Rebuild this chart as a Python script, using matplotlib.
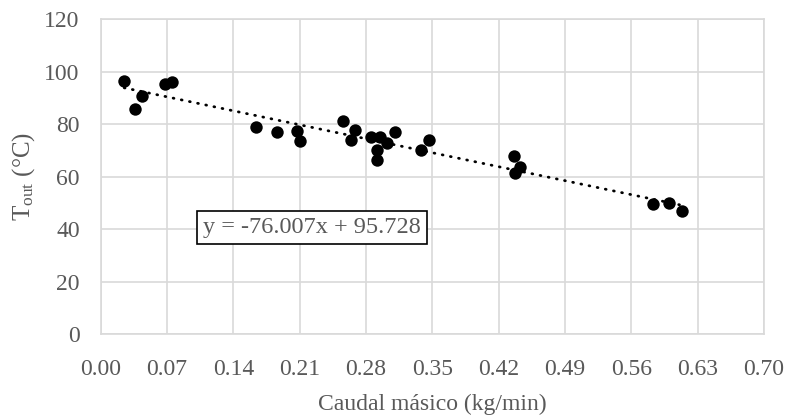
import matplotlib
matplotlib.use("Agg")
import matplotlib.pyplot as plt
import numpy as np

plt.rcParams['font.family'] = ['Liberation Serif', 'DejaVu Serif']
plt.rcParams['mathtext.fontset'] = 'custom'
plt.rcParams['mathtext.rm'] = 'Liberation Serif'
plt.rcParams['mathtext.it'] = 'Liberation Serif:italic'

# Data
mass_flow = [0.0249, 0.0362, 0.0439, 0.0679, 0.0756, 0.164, 0.186, 0.2076, 0.2104,
             0.2555, 0.2688, 0.264, 0.2857, 0.295, 0.302, 0.2914, 0.2914, 0.311,
             0.338, 0.346, 0.4364, 0.4427, 0.4374, 0.5824, 0.5993, 0.6134]
t_out = [96.5, 85.6, 90.8, 95.3, 96.0, 79.0, 77.0, 77.4, 73.6,
         81.1, 77.8, 73.9, 75.0, 75.0, 72.7, 70.1, 66.3, 77.1,
         70.1, 73.9, 67.9, 63.8, 61.5, 49.5, 49.9, 47.0]

slope = -76.007
intercept = 95.728
eq_label = "y = -76.007x + 95.728"

x_ticks = [0.00, 0.07, 0.14, 0.21, 0.28, 0.35, 0.42, 0.49, 0.56, 0.63, 0.70]
y_ticks = [0, 20, 40, 60, 80, 100, 120]

fig = plt.figure(figsize=(7.86, 4.15), dpi=100)
ax = fig.add_axes([0.128, 0.1945, 0.844, 0.7595])

grid_c = '#d9d9d9'
text_c = '#595959'

ax.scatter(mass_flow, t_out, s=80, color='black', zorder=3, linewidths=0)

xs = np.array([min(mass_flow), max(mass_flow)])
ax.plot(xs, slope * xs + intercept, color='black', linestyle=(0, (0.3, 2.7)),
        linewidth=2.0, dash_capstyle='round', zorder=2)

ax.set_xlim(0, 0.70)
ax.set_ylim(0, 120)
ax.set_xticks(x_ticks)
ax.set_xticklabels([f"{v:.2f}" for v in x_ticks])
ax.set_yticks(y_ticks)
ax.grid(True, color=grid_c, linewidth=1.2, zorder=0)
ax.set_axisbelow(True)
for s in ax.spines.values():
    s.set_color(grid_c)
    s.set_linewidth(1.2)
ax.tick_params(length=0, labelsize=17, labelcolor=text_c)
ax.tick_params(axis='x', pad=18)
ax.tick_params(axis='y', pad=15)

ax.set_xlabel("Caudal másico (kg/min)", fontsize=17, color=text_c, labelpad=9.5)
ax.set_ylabel(r"T$_{\rm out}$ (°C)", fontsize=18, color=text_c, labelpad=5)

ax.text(0.1077, 40.8, eq_label, fontsize=17.5, color=text_c,
        ha='left', va='center',
        bbox=dict(boxstyle='square,pad=0.25', facecolor='white', edgecolor='black', linewidth=1.2))

fig.savefig("out.png", dpi=100)
